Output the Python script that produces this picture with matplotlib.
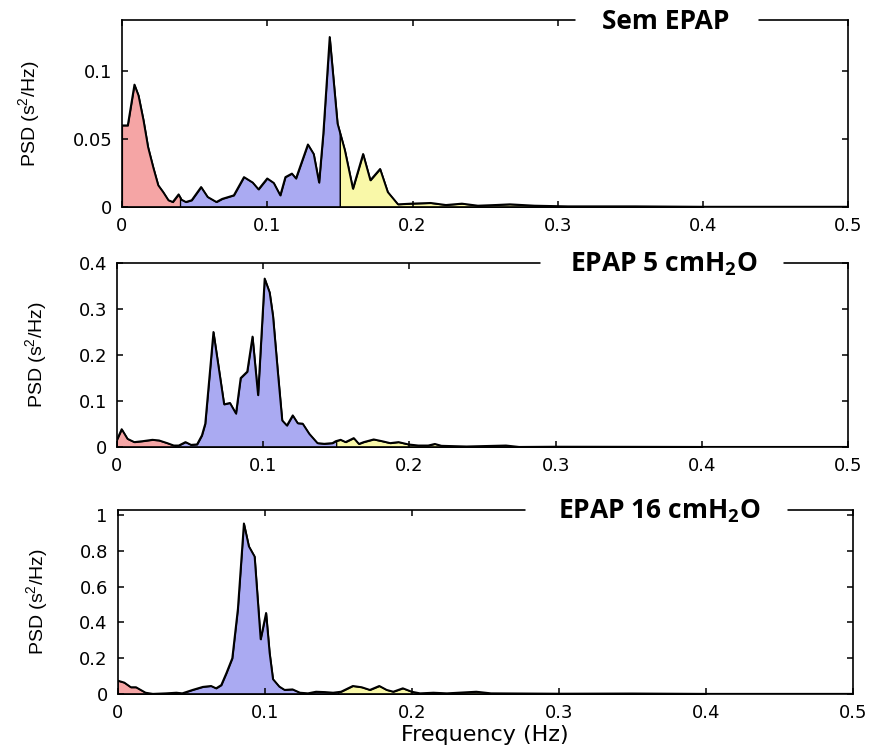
import numpy as np
import matplotlib
matplotlib.use("Agg")
from matplotlib import pyplot as plt
from matplotlib.ticker import FuncFormatter

plt.rcParams['mathtext.default'] = 'regular'

# Sem EPAP
freq_sem = [0, 0.004, 0.0086, 0.0114, 0.0148, 0.018, 0.0216, 0.025, 0.0284, 0.032,
            0.035, 0.039, 0.041, 0.044, 0.048, 0.0545, 0.059, 0.065, 0.069, 0.077,
            0.084, 0.090, 0.094, 0.100, 0.1045, 0.109, 0.1125, 0.117, 0.1198, 0.128,
            0.132, 0.1357, 0.1386, 0.143, 0.1484, 0.1534, 0.159, 0.166, 0.171, 0.1777,
            0.183, 0.190, 0.199, 0.2125, 0.223, 0.234, 0.245, 0.257, 0.267, 0.284,
            0.307, 0.353, 0.40, 0.45, 0.5]
psd_sem = [0.060, 0.060, 0.090, 0.082, 0.064, 0.044, 0.029, 0.016, 0.011, 0.005,
           0.0037, 0.0093, 0.0054, 0.0037, 0.005, 0.0147, 0.0074, 0.0037, 0.006, 0.0086,
           0.022, 0.018, 0.013, 0.021, 0.0177, 0.0086, 0.022, 0.0246, 0.021, 0.046,
           0.039, 0.018, 0.054, 0.125, 0.0614, 0.042, 0.0135, 0.039, 0.0197, 0.028,
           0.011, 0.002, 0.0025, 0.003, 0.0015, 0.0025, 0.001, 0.0015, 0.002, 0.001,
           0.0005, 0.0005, 0.0002, 0.0002, 0.0002]

# EPAP 5 cmH2O
freq_5 = [0, 0.0034, 0.0074, 0.012, 0.0176, 0.0244, 0.0289, 0.0345, 0.039, 0.0424,
          0.047, 0.0508, 0.0549, 0.0582, 0.0605, 0.0661, 0.0734, 0.0774, 0.0815, 0.0847,
          0.0892, 0.0928, 0.0966, 0.1011, 0.1045, 0.1068, 0.1102, 0.1131, 0.1163, 0.1203,
          0.1237, 0.1271, 0.1316, 0.1372, 0.1418, 0.1474, 0.1497, 0.153, 0.1564, 0.162,
          0.1655, 0.1688, 0.1756, 0.1813, 0.1869, 0.1926, 0.1993, 0.2061, 0.2129, 0.2174,
          0.2219, 0.239, 0.266, 0.275, 0.30, 0.35, 0.40, 0.5]
psd_5 = [0.015, 0.039, 0.018, 0.011, 0.013, 0.016, 0.0146, 0.0088, 0.0036, 0.0036,
         0.011, 0.005, 0.006, 0.0255, 0.051, 0.250, 0.093, 0.096, 0.073, 0.150,
         0.164, 0.240, 0.113, 0.366, 0.336, 0.285, 0.160, 0.058, 0.047, 0.069,
         0.052, 0.051, 0.029, 0.0088, 0.0073, 0.0088, 0.013, 0.016, 0.011, 0.0197,
         0.007, 0.011, 0.0168, 0.013, 0.0088, 0.011, 0.006, 0.0036, 0.0036, 0.007,
         0.003, 0.0015, 0.0036, 0.0005, 0.001, 0.0008, 0.0005, 0.0005]

# EPAP 16 cmH2O
freq_16 = [0, 0.0045, 0.009, 0.0125, 0.019, 0.024, 0.033, 0.040, 0.044, 0.051,
           0.058, 0.0636, 0.067, 0.0705, 0.074, 0.078, 0.0818, 0.0859, 0.0893, 0.0932,
           0.0973, 0.101, 0.1034, 0.1057, 0.110, 0.1136, 0.119, 0.124, 0.1295, 0.135,
           0.141, 0.1466, 0.152, 0.160, 0.166, 0.1716, 0.178, 0.183, 0.1875, 0.194,
           0.200, 0.2057, 0.2148, 0.224, 0.244, 0.254, 0.30, 0.35, 0.40, 0.5]
psd_16 = [0.075, 0.064, 0.038, 0.038, 0.0075, 0.001, 0.004, 0.0075, 0.004, 0.023,
          0.040, 0.045, 0.032, 0.050, 0.117, 0.200, 0.475, 0.953, 0.825, 0.768,
          0.306, 0.453, 0.230, 0.083, 0.0415, 0.023, 0.026, 0.0075, 0.004, 0.013,
          0.011, 0.0075, 0.013, 0.045, 0.038, 0.023, 0.045, 0.023, 0.013, 0.032,
          0.013, 0.004, 0.0075, 0.004, 0.013, 0.004, 0.002, 0.003, 0.001, 0.001]

titles = ["Sem EPAP", "EPAP 5 cmH$_{2}$O", "EPAP 16 cmH$_{2}$O"]
band_edges = [0, 0.04, 0.15, 0.4]
band_colors = ["#f5a5a5", "#aaaaf2", "#f9f8a8"]

# data, ymax, yticks, axes rect, title centre, gap in top spine, ylabel x
panels = [
    (freq_sem, psd_sem, 0.1375, [0, 0.05, 0.1], [0.140, 0.7236, 0.834, 0.2497],
     0.748, (0.624, 0.876), -0.110),
    (freq_5, psd_5, 0.4, [0, 0.1, 0.2, 0.3, 0.4], [0.134, 0.403, 0.840, 0.246],
     0.747, (0.579, 0.911), -0.093),
    (freq_16, psd_16, 1.028, [0, 0.2, 0.4, 0.6, 0.8, 1], [0.135, 0.0734, 0.844, 0.2457],
     0.737, (0.554, 0.910), -0.0925),
]

fig = plt.figure(figsize=(8.71, 7.49), dpi=100)
fmt = FuncFormatter(lambda v, p: "%g" % round(v, 3))

for (f, p, ymax, yt, pos, tx, gap, lx), title in zip(panels, titles):
    ax = fig.add_axes(pos)
    f = np.array(f)
    p = np.array(p)
    for i in range(3):
        a, b = band_edges[i], band_edges[i + 1]
        inner = f[(f > a) & (f < b)]
        xs = np.concatenate([[a], inner, [b]])
        ys = np.interp(xs, f, p)
        ax.fill_between(xs, ys, 0, facecolor=band_colors[i], edgecolor="k", lw=0.9)
    ax.plot(f, p, color="k", lw=1.4)
    ax.set_xlim(0, 0.5)
    ax.set_ylim(0, ymax)
    ax.set_xticks([0, 0.1, 0.2, 0.3, 0.4, 0.5])
    ax.set_yticks(yt)
    ax.xaxis.set_major_formatter(fmt)
    ax.yaxis.set_major_formatter(fmt)
    ax.tick_params(direction="in", top=True, right=True, length=4, width=1.1,
                   labelsize=13, pad=7)
    for lab in ax.get_xticklabels() + ax.get_yticklabels():
        lab.set_family("DejaVu Sans")
    for s in ax.spines.values():
        s.set_linewidth(1.2)
    ax.set_ylabel("PSD (s$^{2}$/Hz)", family="Liberation Sans", fontsize=14)
    ax.yaxis.set_label_coords(lx, 0.5)
    # white gap in the top frame behind the title
    ax.plot(gap, [1, 1], transform=ax.transAxes, color="white", lw=11,
            solid_capstyle="butt", clip_on=False, zorder=9)
    ax.text(tx, 0.992, title, transform=ax.transAxes, ha="center", va="center",
            family="Open Sans", fontweight="bold", fontsize=19, zorder=10)
    if title == titles[-1]:
        ax.set_xlabel("Frequency (Hz)", family="DejaVu Sans", fontsize=16, labelpad=2)

fig.savefig("out.png", dpi=100)
